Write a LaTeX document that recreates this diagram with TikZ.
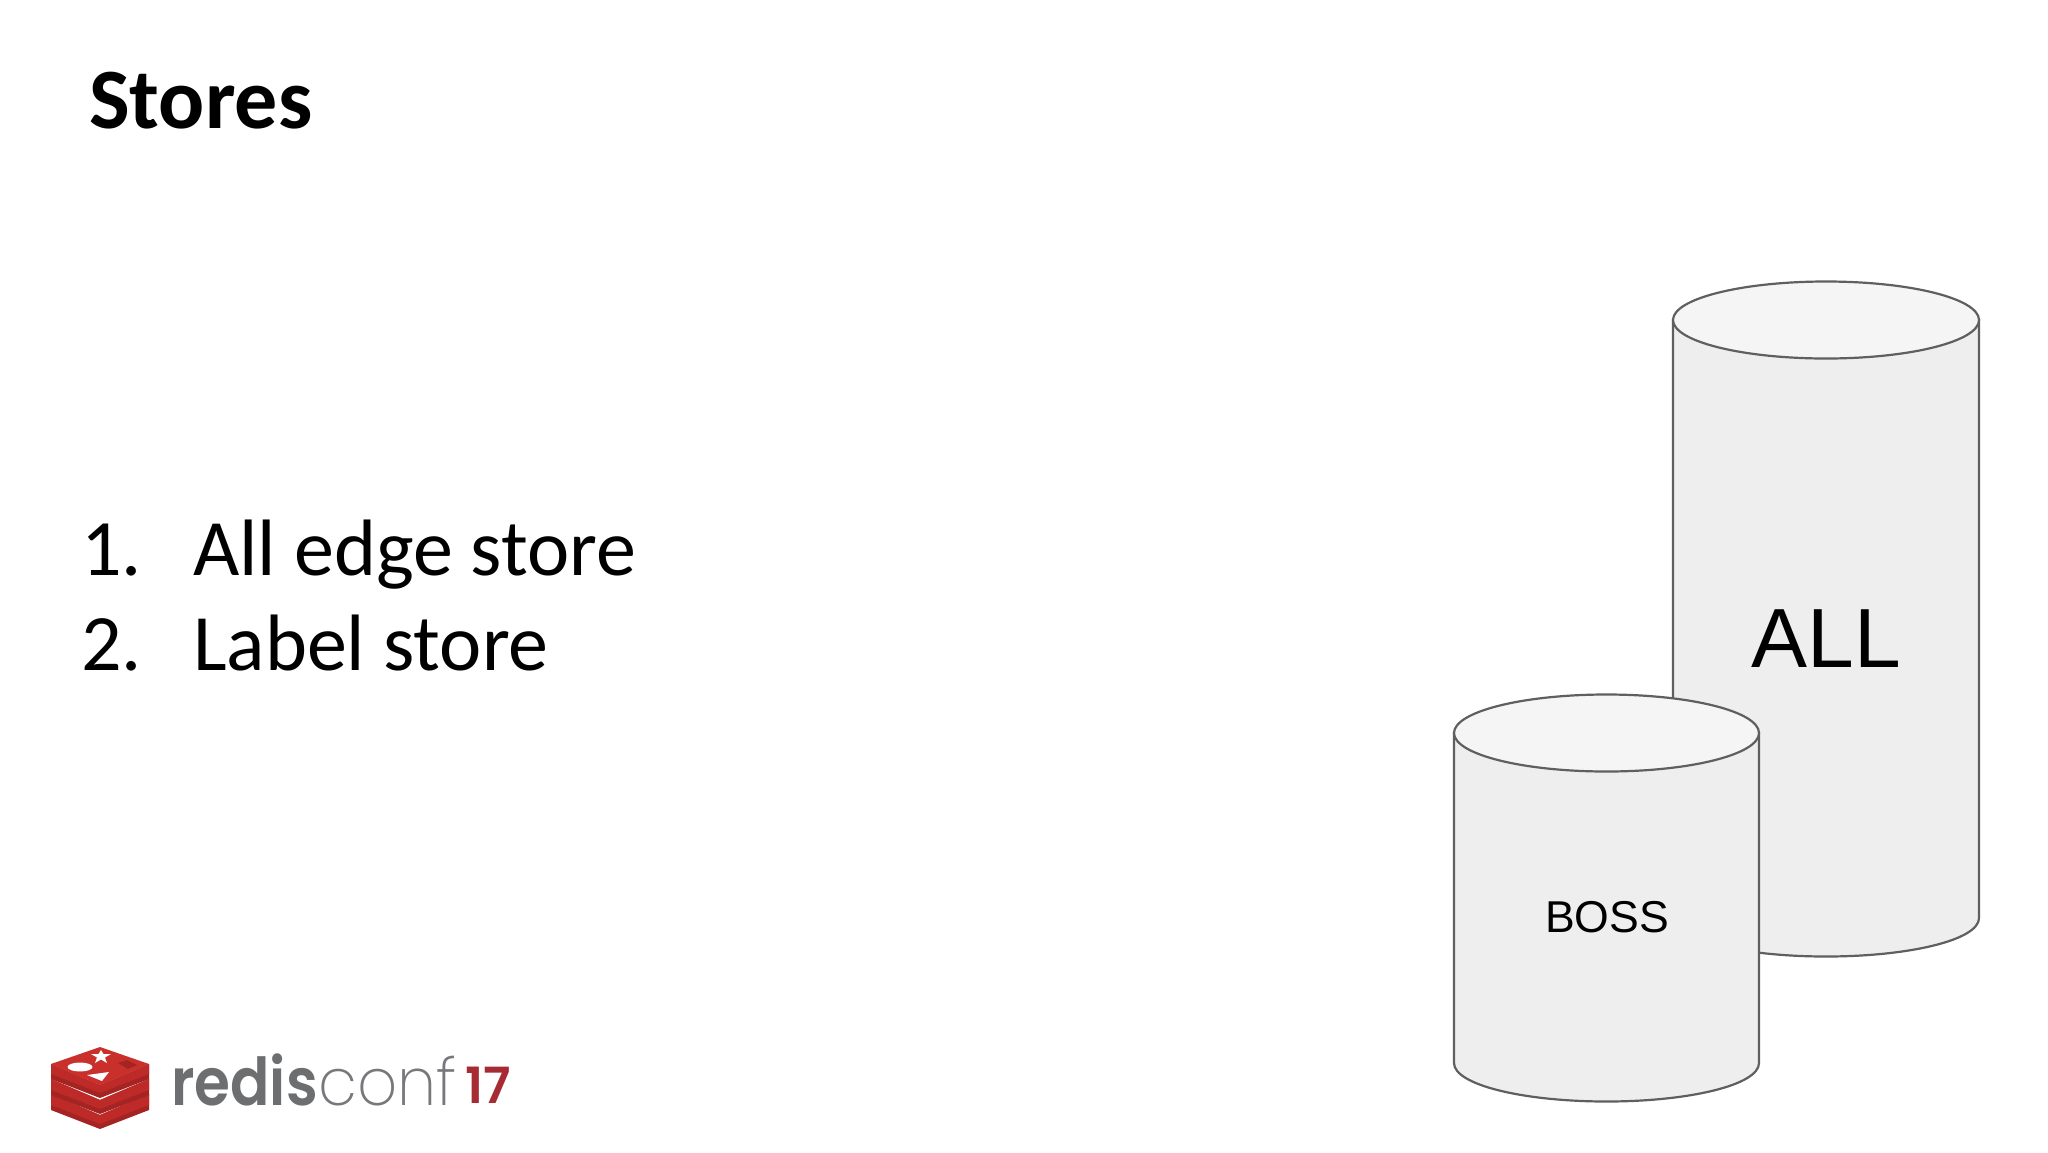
\documentclass[tikz,border=0pt]{standalone}
\usepackage{fontspec}
\setmainfont{Carlito}
\newfontfamily\arialf{Liberation Sans}
\newfontfamily\logobold{Poppins}[UprightFont=*-SemiBold,FakeStretch=0.88]
\newfontfamily\logolight{Poppins}[UprightFont=*-ExtraLight,FakeStretch=0.95]
\newfontfamily\logoyear{Poppins}[UprightFont=*-SemiBold]
\definecolor{cylside}{HTML}{EEEEEE}
\definecolor{cyltop}{HTML}{F5F5F5}
\definecolor{cylline}{HTML}{5F5F5F}
\definecolor{redisred}{HTML}{C9302C}
\definecolor{redismid}{HTML}{BE2A28}
\definecolor{redisdark}{HTML}{A32422}
\definecolor{logogray}{HTML}{6D6E70}
\definecolor{logolite}{HTML}{77787B}
\definecolor{logored}{HTML}{A62B33}
\tikzset{
  x=1pt,y=-1pt,
  titletext/.style={inner sep=0pt,anchor=base west,font=\fontsize{86}{86}\selectfont\bfseries},
  bodytext/.style={inner sep=0pt,anchor=base west,font=\fontsize{80}{80}\selectfont},
  cylbody/.style={fill=cylside,draw=cylline,line width=2.2pt},
  cylcap/.style={fill=cyltop,draw=cylline,line width=2.2pt},
  cyllabel/.style={inner sep=0pt,anchor=base,text=black},
  logotext/.style={inner sep=0pt,anchor=base west},
}
\newcommand{\cylinder}[4]{% left, right, capY, bottomY
  \path[cylbody] (#1,#3) -- (#1,#4) .. controls (#1,#4+22) and (#1+70,#4+38.5) .. ({(#1+#2)/2},#4+38.5)
    .. controls (#2-70,#4+38.5) and (#2,#4+22) .. (#2,#4) -- (#2,#3) -- cycle;
  \path[cylcap] ({(#1+#2)/2},#3) ellipse [x radius={(#2-#1)/2},y radius=38.5];
}
\newcommand{\cubelayer}[2]{% top edge y, bottom edge y
  \fill[redisdark] (51,#1) -- (100,#1+21) -- (149,#1) -- (149,#2) -- (100,#2+19) -- (51,#2) -- cycle;
  \fill[redismid] (51,#1) -- (100,#1+21) -- (149,#1) -- (149,#2-5) -- (100,#2+14) -- (51,#2-5) -- cycle;
}
\begin{document}
\begin{tikzpicture}
\useasboundingbox (0,0) rectangle (2048,1152);
\fill[white] (0,0) rectangle (2048,1152);
\node[titletext] (title) at (89,128) {Stores};
\node[bodytext] (n1) at (81,575.5) {1.};
\node[bodytext] (t1) at (193,575.5) {All edge store};
\node[bodytext] (n2) at (81,670.5) {2.};
\node[bodytext] (t2) at (193,670.5) {Label store};
\cylinder{1673}{1979}{320}{918}
\node[cyllabel,font=\arialf\fontsize{84}{84}\selectfont] (all) at (1826,667) {ALL};
\cylinder{1454}{1759}{733}{1063}
\node[cyllabel,font=\arialf\fontsize{44.6}{44.6}\selectfont] (boss) at (1607,932) {BOSS};
% logo cube
\cubelayer{1094}{1110}
\cubelayer{1079}{1095}
\cubelayer{1064}{1079}
\fill[redisred] (51,1064) -- (100,1047) -- (149,1064) -- (100,1085) -- cycle;
\fill[white] (80,1067) ellipse [x radius=12.5,y radius=4.5];
\fill[white] (87,1075) -- (109,1072) -- (102,1081) -- cycle;
\fill[white] (101,1050) -- (103.5,1054) -- (111,1054) -- (105,1057.5) -- (107,1063) -- (101,1059.5) -- (95,1063) -- (97,1057.5) -- (91,1054) -- (98.5,1054) -- cycle;
\fill[redisdark] (118,1063) -- (127,1060) -- (137,1065) -- (128,1069) -- cycle;
\node[logotext,text=logogray,font=\logobold\fontsize{66}{66}\selectfont] (redis) at (171,1105) {redis};
\node[logotext,text=logolite,font=\logolight\fontsize{66}{66}\selectfont] (conf) at (318,1105) {conf};
\node[logotext,text=logored,font=\logoyear\fontsize{50}{50}\selectfont] (yr) at (465,1103) {17};
\end{tikzpicture}
\end{document}
